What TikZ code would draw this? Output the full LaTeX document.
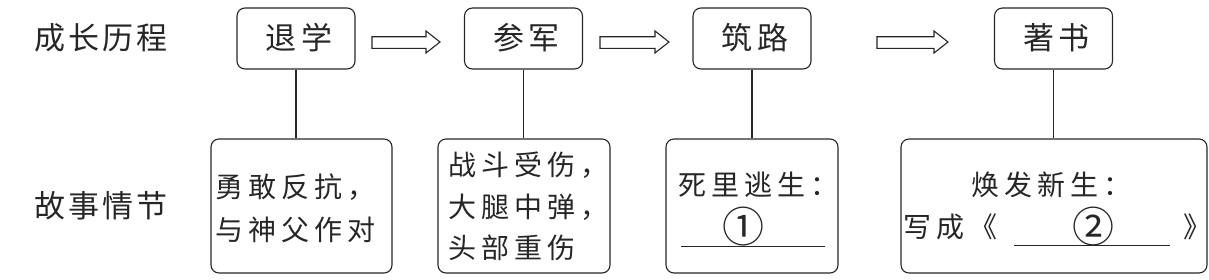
\documentclass[tikz,border=0pt]{standalone}
\usepackage{fontspec}
\newfontfamily\cjklabel[LetterSpace=10]{Noto Sans CJK SC}
\newfontfamily\cjktop[LetterSpace=15]{Noto Sans CJK SC}
\newfontfamily\cjkbody[LetterSpace=18]{Noto Sans CJK SC}
\newfontfamily\cjkplain{Noto Sans CJK SC}
\tikzset{
  frame/.style={draw=black!85, line width=1.1pt, rounded corners=8pt, inner sep=0pt},
  stagebox/.style={frame, minimum width=118pt, minimum height=61pt},
  plotbox/.style={frame, minimum height=134pt},
  link/.style={draw=black!85, line width=1.1pt},
  hollowarrow/.style={draw=black!85, line width=1.1pt, fill=white},
  lbl/.style={inner sep=0pt, text=black!85, font=\cjklabel\fontsize{31pt}{34pt}\selectfont},
  toptxt/.style={inner sep=0pt, text=black!85, font=\cjktop\fontsize{31pt}{34pt}\selectfont},
  bodytxt/.style={inner sep=0pt, align=left, text=black!85, font=\cjkbody\fontsize{28pt}{43pt}\selectfont},
  circnum/.style={inner sep=0pt, text=black!85, font=\cjkplain\fontsize{42pt}{42pt}\selectfont},
}
\begin{document}
\begin{tikzpicture}[x=1pt,y=-1pt]
\useasboundingbox (0,0) rectangle (1209,279);
% left labels
\node[lbl, anchor=west] (growth) at (34,38) {成长历程};
\node[lbl, anchor=west] (story) at (34,206) {故事情节};
% top boxes
\node[stagebox] (s1) at (296,38.5) {};
\node[stagebox] (s2) at (523.5,38.5) {};
\node[stagebox] (s3) at (752,38.5) {};
\node[stagebox] (s4) at (1053.5,38.5) {};
\node[toptxt] (t1) at (299,38) {退学};
\node[toptxt] (t2) at (526.5,38) {参军};
\node[toptxt] (t3) at (755,38) {筑路};
\node[toptxt] (t4) at (1056.5,38) {著书};
% bottom boxes
\node[plotbox, minimum width=181pt] (b1) at (301.5,206) {};
\node[plotbox, minimum width=172pt] (b2) at (524,206) {};
\node[plotbox, minimum width=172pt] (b3) at (752,206) {};
\node[plotbox, minimum width=306pt] (b4) at (1054,206) {};
% connectors
\draw[link] (s1.south) -- (s1.south |- b1.north);
\draw[link] (s2.south) -- (s2.south |- b2.north);
\draw[link] (s3.south) -- (s3.south |- b3.north);
\draw[link] (s4.south) -- (s4.south |- b4.north);
% hollow arrows
\foreach \xa/\xb in {372/440, 600/669, 877/948}{
  \pgfmathsetmacro{\hb}{\xb-14}
  \draw[hollowarrow] (\xa,36.7) -- (\hb,36.7) -- (\hb,31) -- (\xb,42) -- (\hb,53) -- (\hb,48.3) -- (\xa,48.3) -- cycle;
}
% texts in bottom boxes
\node[bodytxt, anchor=west] (p1) at (215,208.5) {勇敢反抗，\\与神父作对};
\node[bodytxt, anchor=west, font=\cjkbody\fontsize{28pt}{41.5pt}\selectfont] (p2) at (448,206.5) {战斗受伤，\\大腿中弹，\\头部重伤};
\node[bodytxt, anchor=west] (p3) at (678,185) {死里逃生：};
\node[circnum] (n1) at (743,226.5) {①};
\draw[link, line width=1pt] (681,246) -- (825,246);
\node[bodytxt, anchor=west] (p4) at (971,185) {焕发新生：};
\node[bodytxt, anchor=west] (p5) at (903,227) {写成《};
\node[circnum] (n2) at (1093,226.5) {②};
\draw[link, line width=1pt] (1014,245) -- (1170,245);
\node[bodytxt, anchor=west] (p6) at (1183,227) {》};
\end{tikzpicture}
\end{document}
